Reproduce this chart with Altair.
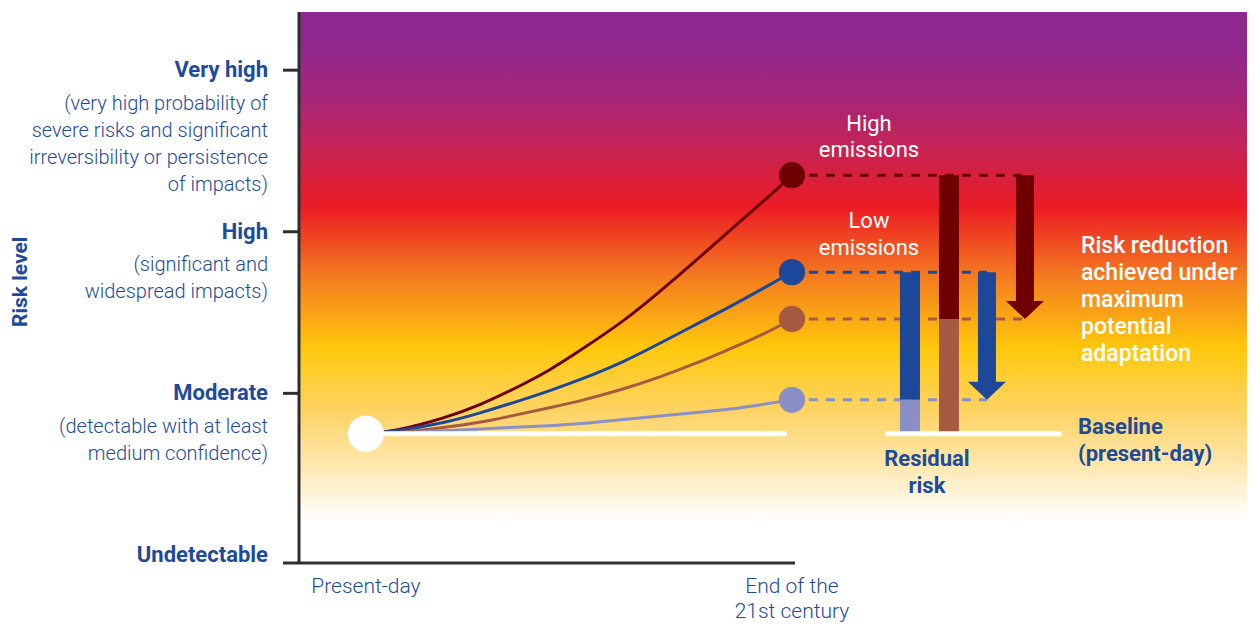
import altair as alt
import pandas as pd

# ---------------- data ----------------
level_names = ["Undetectable", "Moderate", "High", "Very high"]
level_values = [0, 1, 2, 3]
level_notes = [
    [],
    ["(detectable with at least", "medium confidence)"],
    ["(significant and", "widespread impacts)"],
    ["(very high probability of", "severe risks and significant",
     "irreversibility or persistence", "of impacts)"],
]
time_values = [0, 1]
time_labels = [["Present-day"], ["End of the", "21st century"]]

baseline_risk = 0.75
curve_time = [0.0, 0.06, 0.19, 0.27, 0.35, 0.43, 0.50, 0.61, 0.69, 0.77, 0.85, 0.93, 1.0]
risk_high_emissions = [0.75, 0.76, 0.85, 0.93, 1.03, 1.14, 1.26, 1.455, 1.63, 1.81, 2.00, 2.18, 2.35]
risk_low_emissions = [0.75, 0.76, 0.82, 0.88, 0.945, 1.015, 1.08, 1.20, 1.31, 1.42, 1.53, 1.645, 1.75]
risk_high_adapted = [0.75, 0.75, 0.79, 0.82, 0.865, 0.91, 0.95, 1.03, 1.10, 1.18, 1.27, 1.36, 1.46]
risk_low_adapted = [0.75, 0.75, 0.77, 0.78, 0.79, 0.80, 0.81, 0.84, 0.86, 0.88, 0.90, 0.93, 0.96]
scenario_names = ["High emissions", "Low emissions",
                  "High emissions, max adaptation", "Low emissions, max adaptation"]
scenario_colors = ["#6E0000", "#1D4899", "#A65A42", "#8A90C6"]
scenario_series = [risk_high_emissions, risk_low_emissions, risk_high_adapted, risk_low_adapted]

# ---------------- layout / style ----------------
W, H = 948, 551
X_MIN, X_MAX = -0.157, 2.068
Y_MIN, Y_MAX = -0.05, 3.36
PX_X = W / (X_MAX - X_MIN)
PX_Y = H / (Y_MAX - Y_MIN)


def dx(px):
    return px / PX_X


def dy(px):
    return px / PX_Y


FONT = "Roboto"
BLUE_TXT = "#1E4B99"
AXIS_COL = "#2E2E2E"

xs = alt.Scale(domain=[X_MIN, X_MAX], nice=False, zero=False)
ys = alt.Scale(domain=[Y_MIN, Y_MAX], nice=False, zero=False)
X = lambda f="x": alt.X(f + ":Q", scale=xs, axis=None)
Y = lambda f="y": alt.Y(f + ":Q", scale=ys, axis=None)

end_high, end_low, end_high_ad, end_low_ad = [s[-1] for s in scenario_series]

# gradient background
grad = alt.LinearGradient(
    gradient="linear", x1=0, y1=0, x2=0, y2=1,
    stops=[
        alt.GradientStop(offset=0.0, color="#8E278F"),
        alt.GradientStop(offset=0.06, color="#8F278D"),
        alt.GradientStop(offset=0.15, color="#A5267A"),
        alt.GradientStop(offset=0.24, color="#C32357"),
        alt.GradientStop(offset=0.355, color="#EC1C24"),
        alt.GradientStop(offset=0.48, color="#F47B20"),
        alt.GradientStop(offset=0.61, color="#FFC80B"),
        alt.GradientStop(offset=0.74, color="#FDD670"),
        alt.GradientStop(offset=0.815, color="#FEE6A8"),
        alt.GradientStop(offset=0.87, color="#FFF3D6"),
        alt.GradientStop(offset=0.925, color="#FFFFFF"),
        alt.GradientStop(offset=1.0, color="#FFFFFF"),
    ],
)
bg = alt.Chart(pd.DataFrame({"x": [X_MIN], "x2": [X_MAX], "y": [Y_MAX], "y2": [Y_MIN]})).mark_rect(
    color=grad, strokeWidth=0
).encode(x=X(), x2="x2:Q", y=Y(), y2="y2:Q")

# axes
yaxis = alt.Chart(pd.DataFrame({"x": [X_MIN], "y": [Y_MIN], "y2": [Y_MAX]})).mark_rule(
    color=AXIS_COL, strokeWidth=3).encode(x=X(), y=Y(), y2="y2:Q")
xaxis = alt.Chart(pd.DataFrame({"x": [X_MIN - dx(16)], "x2": [1 + dx(3)], "y": [Y_MIN]})).mark_rule(
    color=AXIS_COL, strokeWidth=3).encode(x=X(), x2="x2:Q", y=Y())
ticks = alt.Chart(pd.DataFrame({"x": [X_MIN - dx(16)] * 3, "x2": [X_MIN] * 3, "y": level_values[1:]})).mark_rule(
    color=AXIS_COL, strokeWidth=3).encode(x=X(), x2="x2:Q", y=Y())

# curves
rows = []
for name, series in zip(scenario_names, scenario_series):
    for t, r in zip(curve_time, series):
        rows.append({"t": t, "risk": r, "scenario": name})
curves_df = pd.DataFrame(rows)
color_scale = alt.Scale(domain=scenario_names, range=scenario_colors)
curves = alt.Chart(curves_df).mark_line(interpolate="basis", strokeWidth=3).encode(
    x=X("t"), y=Y("risk"), color=alt.Color("scenario:N", scale=color_scale, legend=None),
    order=alt.Order("t:Q"))

# dashed projections
arrow_high_x = 1 + dx(233)
arrow_low_x = 1 + dx(195)
dash_df = pd.DataFrame({
    "x": [1, 1, 1, 1],
    "x2": [arrow_high_x, arrow_low_x, arrow_high_x, arrow_low_x],
    "y": [end_high, end_low, end_high_ad, end_low_ad],
    "scenario": scenario_names,
})
dashes = alt.Chart(dash_df).mark_rule(strokeWidth=3, strokeDash=[9, 8]).encode(
    x=X(), x2="x2:Q", y=Y(), color=alt.Color("scenario:N", scale=color_scale, legend=None))

# residual-risk bars
bar_low_x = 1 + dx(118)
bar_high_x = 1 + dx(157)
bars_df = pd.DataFrame({
    "x": [bar_low_x, bar_low_x, bar_high_x, bar_high_x],
    "y": [end_low, end_low_ad, end_high, end_high_ad],
    "y2": [end_low_ad, baseline_risk, end_high_ad, baseline_risk],
    "c": [scenario_colors[1], scenario_colors[3], scenario_colors[0], scenario_colors[2]],
})
bars = alt.Chart(bars_df).mark_rule(strokeWidth=20, strokeCap="butt").encode(
    x=X(), y=Y(), y2="y2:Q", color=alt.Color("c:N", scale=None))

# arrows
arr_df = pd.DataFrame({
    "x": [arrow_high_x, arrow_low_x],
    "y": [end_high, end_low],
    "tip": [end_high_ad, end_low_ad],
    "c": [scenario_colors[0], scenario_colors[1]],
})
shafts = alt.Chart(arr_df).mark_rule(strokeWidth=18, strokeCap="butt", y2Offset=-17).encode(
    x=X(), y=Y(), y2="tip:Q", color=alt.Color("c:N", scale=None))
heads = alt.Chart(arr_df).mark_point(
    shape="M-1,-0.95L1,-0.95L0,0Z", size=1444, filled=True, opacity=1, strokeWidth=0).encode(
    x=X(), y=Y("tip"), fill=alt.Color("c:N", scale=None))

# white baselines
base_df = pd.DataFrame({"x": [0, 1 + dx(93)], "x2": [1 - dx(5), 1 + dx(270)],
                        "y": [baseline_risk, baseline_risk]})
baselines = alt.Chart(base_df).mark_rule(color="white", strokeWidth=5).encode(
    x=X(), x2="x2:Q", y=Y())

start_dot = alt.Chart(pd.DataFrame({"x": [0], "y": [baseline_risk]})).mark_circle(
    size=1320, color="white", opacity=1).encode(x=X(), y=Y())
end_df = pd.DataFrame({"x": [1] * 4, "y": [end_high, end_low, end_high_ad, end_low_ad],
                       "scenario": scenario_names})
end_dots = alt.Chart(end_df).mark_circle(size=690, opacity=1).encode(
    x=X(), y=Y(), color=alt.Color("scenario:N", scale=color_scale, legend=None))


# ---------------- text ----------------
def text_layer(rows, color, size, weight, align, angle=0):
    df = pd.DataFrame(rows, columns=["x", "y", "t"])
    kw = dict(align=align, baseline="middle", font=FONT, fontSize=size,
              fontWeight=weight, color=color)
    if angle:
        kw["angle"] = angle
    return alt.Chart(df).mark_text(**kw).encode(x=X(), y=Y(), text="t:N")


def block(lines, x, y0, spacing):
    return [(x, y0 - i * dy(spacing), s) for i, s in enumerate(lines)]


label_x = X_MIN - dx(31)
lvl_rows = [(label_x, v, n) for n, v in zip(level_names, level_values)]
note_rows = []
for v, notes in zip(level_values, level_notes):
    note_rows += block(notes, label_x, v - dy(33.5), 27)

time_rows = []
for t, lines in zip(time_values, time_labels):
    time_rows += block(lines, t, Y_MIN - dy(24), 25)

title_rows = [(X_MIN - dx(278), 1.69, "Risk level")]

emis_x = 1 + dx(77)
emis_rows = block(["High", "emissions"], emis_x, end_high + dy(51), 26) + \
    block(["Low", "emissions"], emis_x, end_low + dy(51), 26.5)
red_rows = block(["Risk reduction", "achieved under", "maximum", "potential", "adaptation"],
                 1 + dx(289), end_high - dy(71), 27)
resid_rows = block(["Residual", "risk"], 1 + dx(135), baseline_risk - dy(25), 27)
basetxt_rows = block(["Baseline", "(present-day)"], 1 + dx(286), baseline_risk + dy(7), 27)

texts = [
    text_layer(lvl_rows, BLUE_TXT, 22, "bold", "right"),
    text_layer(note_rows, BLUE_TXT, 20, 300, "right"),
    text_layer(time_rows, BLUE_TXT, 21, 300, "center"),
    text_layer(title_rows, BLUE_TXT, 21, "bold", "center", angle=270),
    text_layer(emis_rows, "white", 22, "normal", "center"),
    text_layer(red_rows, "white", 23, 500, "left"),
    text_layer(resid_rows, BLUE_TXT, 22, "bold", "center"),
    text_layer(basetxt_rows, BLUE_TXT, 22, "bold", "left"),
]

chart = alt.layer(
    bg, yaxis, xaxis, ticks, curves, dashes, bars, shafts, heads, baselines,
    start_dot, end_dots, *texts
).properties(
    width=W, height=H,
    padding={"left": 291, "top": 4, "right": 0, "bottom": 61},
    autosize=alt.AutoSizeParams(type="none"),
).configure_view(strokeWidth=0)

chart.save("out.html", embed_options={"renderer": "svg", "actions": False})
